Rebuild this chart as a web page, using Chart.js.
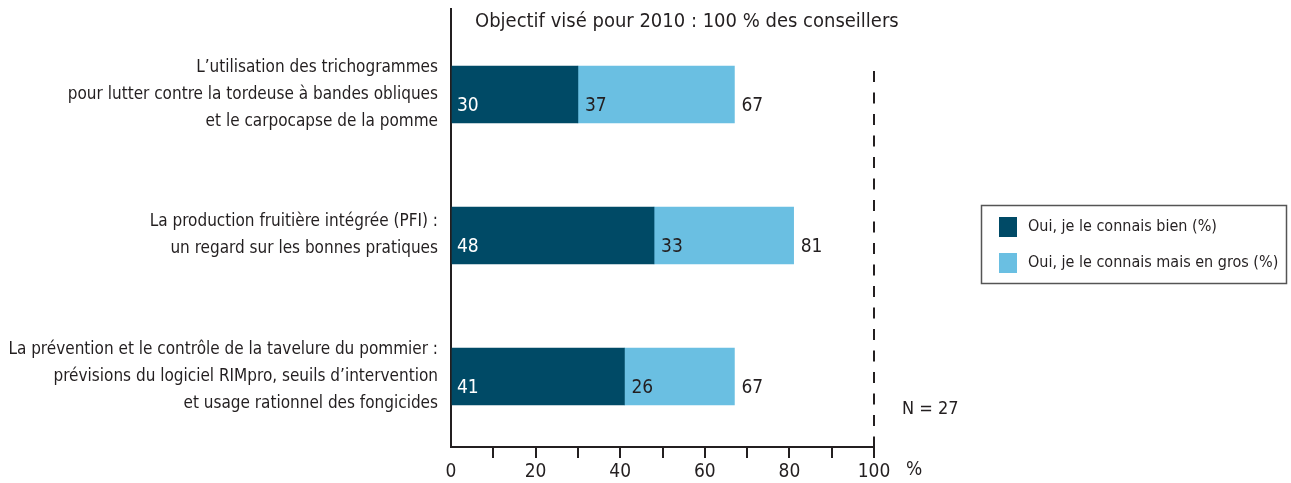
<!DOCTYPE html>
<html>
<head>
<meta charset="utf-8">
<script src="https://cdn.jsdelivr.net/npm/chart.js@4/dist/chart.umd.min.js"></script>
<style>
  html, body { margin: 0; padding: 0; background: #fff; }
  #wrap { position: relative; width: 1291px; height: 483px; }
</style>
</head>
<body>
<div id="wrap"><canvas id="c" width="1291" height="483"></canvas></div>
<script>
const categories = [
  ["L\u2019utilisation des trichogrammes", "pour lutter contre la tordeuse \u00e0 bandes obliques", "et le carpocapse de la pomme"],
  ["La production fruiti\u00e8re int\u00e9gr\u00e9e (PFI) :", "un regard sur les bonnes pratiques"],
  ["La pr\u00e9vention et le contr\u00f4le de la tavelure du pommier :", "pr\u00e9visions du logiciel RIMpro, seuils d\u2019intervention", "et usage rationnel des fongicides"]
];
const bienValues = [30, 48, 41];
const grosValues = [37, 33, 26];
const totalValues = [67, 81, 67];
const seriesNames = ["Oui, je le connais bien (%)", "Oui, je le connais mais en gros (%)"];
const xTickLabels = [0, 20, 40, 60, 80, 100];
const titleText = "Objectif vis\u00e9 pour 2010 : 100 % des conseillers";
const noteText = "N = 27";
const unitText = "%";
const targetValue = 100;

const FONT = '"Liberation Sans Narrow", "DejaVu Sans Condensed", "Arial Narrow", sans-serif';
const INK = '#231f20';
const DARK = '#004a66';
const LIGHT = '#6abfe2';

const extras = {
  id: 'extras',
  afterDatasetsDraw(chart) {
    const ctx = chart.ctx;
    const xs = chart.scales.x;
    const ca = chart.chartArea;
    ctx.save();
    ctx.strokeStyle = INK; ctx.lineWidth = 2;
    ctx.beginPath(); ctx.moveTo(ca.left, 8); ctx.lineTo(ca.left, ca.top); ctx.stroke();
    const tx = Math.round(xs.getPixelForValue(targetValue));
    ctx.setLineDash([11, 10.5]);
    ctx.beginPath(); ctx.moveTo(tx, 71); ctx.lineTo(tx, ca.bottom); ctx.stroke();
    ctx.setLineDash([]);
    ctx.font = '19px ' + FONT;
    ctx.textBaseline = 'middle';
    ctx.textAlign = 'left';
    const m0 = chart.getDatasetMeta(0), m1 = chart.getDatasetMeta(1);
    m0.data.forEach((bar, i) => {
      const y = bar.y + 12;
      ctx.fillStyle = '#ffffff';
      ctx.fillText(String(bienValues[i]), bar.base + 5, y);
      const b2 = m1.data[i];
      ctx.fillStyle = INK;
      ctx.fillText(String(grosValues[i]), b2.base + 7, y);
      ctx.fillText(String(totalValues[i]), b2.x + 7, y);
    });
    ctx.font = '20px ' + FONT;
    ctx.fillText(titleText, 475, 22);
    ctx.font = '18px ' + FONT;
    ctx.fillText(noteText, 902, 409);
    ctx.font = '19px ' + FONT;
    ctx.fillText(unitText, 906, 470);
    ctx.strokeStyle = '#555'; ctx.lineWidth = 1.5;
    ctx.strokeRect(981.5, 205.5, 305, 78);
    const colors = [DARK, LIGHT];
    const ys = [227, 263];
    ctx.font = '16px ' + FONT;
    seriesNames.forEach((n, i) => {
      ctx.fillStyle = colors[i];
      ctx.fillRect(999, ys[i] - 10, 18, 20);
      ctx.fillStyle = INK;
      ctx.fillText(n, 1028, ys[i]);
    });
    ctx.restore();
  }
};

new Chart(document.getElementById('c'), {
  type: 'bar',
  data: {
    labels: categories,
    datasets: [
      { label: seriesNames[0], data: bienValues, backgroundColor: DARK, barThickness: 57 },
      { label: seriesNames[1], data: grosValues, backgroundColor: LIGHT, barThickness: 57 }
    ]
  },
  options: {
    indexAxis: 'y',
    responsive: false,
    animation: false,
    devicePixelRatio: 1,
    layout: { padding: { top: 24, right: 417, left: 0, bottom: 0 } },
    plugins: { legend: { display: false }, tooltip: { enabled: false }, title: { display: false } },
    scales: {
      x: {
        stacked: true, min: 0, max: 100,
        afterFit(s) { s.height = 36; s.paddingLeft = 0; s.paddingRight = 0; },
        border: { display: true, color: INK, width: 2 },
        grid: {
          drawOnChartArea: false, drawTicks: true, tickLength: 11, lineWidth: 2,
          color: (c) => (c.tick && c.tick.value === 0) ? 'rgba(0,0,0,0)' : INK
        },
        ticks: {
          stepSize: 10, autoSkip: false, maxRotation: 0, padding: 3,
          color: INK, font: { family: FONT, size: 19 },
          callback: (v) => xTickLabels.includes(v) ? String(v) : ''
        }
      },
      y: {
        stacked: true,
        afterFit(s) { s.width = 451; s.paddingTop = 0; s.paddingBottom = 0; },
        border: { display: true, color: INK, width: 2 },
        grid: { display: false, drawTicks: false },
        ticks: {
          padding: 13, color: INK, crossAlign: 'near',
          font: { family: FONT, size: 17, lineHeight: 27 / 17 }
        }
      }
    }
  },
  plugins: [extras]
});
</script>
</body>
</html>
